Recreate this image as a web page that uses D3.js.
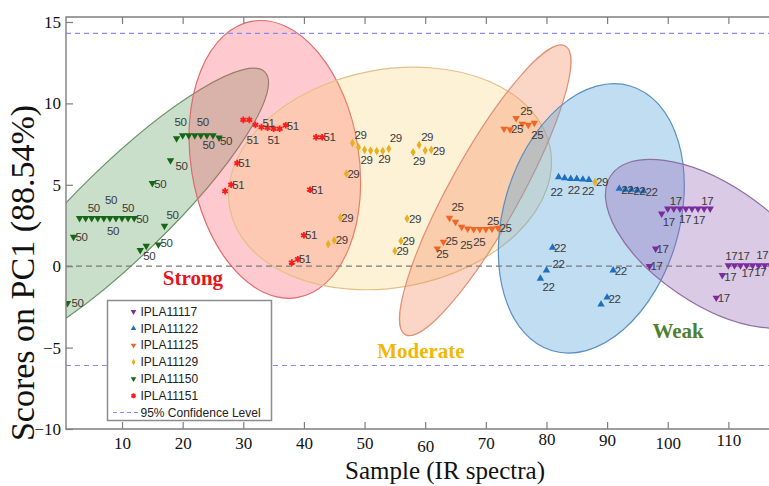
<!DOCTYPE html>
<html>
<head>
<meta charset="utf-8">
<script src="https://cdn.jsdelivr.net/npm/d3@7"></script>
<style>
  html, body { margin: 0; padding: 0; background: #fff; }
  svg { display: block; }
</style>
</head>
<body>
<svg id="chart" width="769" height="486"></svg>
<script>
// ---- data -------------------------------------------------------------
const strains = ["IPLA11117", "IPLA11122", "IPLA11125", "IPLA11129", "IPLA11150", "IPLA11151"];

// sample number (IR spectrum) and PC1 score, per strain
const samples11150 = [1, 2, 3, 4, 5, 6, 7, 8, 9, 10, 11, 12, 13, 14, 15, 16, 17, 18, 19, 20, 21, 22, 23, 24, 25, 26];
const scores11150  = [-2.27, 1.80, 2.95, 2.95, 2.95, 2.95, 2.95, 2.95, 2.95, 2.95, 2.95, 2.95, 0.98, 1.24, 5.10, 1.33, 2.47, 6.50, 7.85, 8.03, 8.03, 8.03, 8.03, 8.03, 8.03, 7.89];

const samples11151 = [27, 28, 29, 30, 31, 32, 33, 34, 35, 36, 37, 38, 39, 40, 41, 42, 43];
const scores11151  = [4.61, 5.00, 6.33, 8.99, 8.99, 8.68, 8.54, 8.50, 8.44, 8.44, 8.66, 0.22, 0.43, 1.90, 4.70, 7.92, 7.92];

const samples11129 = [44, 45, 46, 47, 48, 49, 50, 51, 52, 53, 54, 55, 56, 57, 58, 59, 60, 61, 88];
const scores11129  = [1.35, 1.59, 2.98, 5.68, 7.56, 7.31, 7.15, 7.10, 7.07, 7.07, 7.21, 0.94, 1.55, 2.92, 7.00, 7.45, 7.10, 7.15, 5.17];

const samples11125 = [62, 63, 64, 65, 66, 67, 68, 69, 70, 71, 72, 73, 74, 75, 76, 77, 78];
const scores11125  = [1.08, 1.49, 2.96, 2.72, 2.41, 2.31, 2.27, 2.27, 2.27, 2.31, 2.35, 8.44, 8.40, 9.09, 8.74, 8.68, 8.80];

const samples11122 = [79, 80, 81, 82, 83, 84, 85, 86, 87, 89, 90, 91, 92, 93, 94, 95, 96];
const scores11122  = [-0.76, -0.25, 1.15, 5.47, 5.41, 5.37, 5.37, 5.33, 5.31, -2.35, -1.92, -0.25, 4.76, 4.70, 4.70, 4.66, 4.62];

const samples11117 = [97, 98, 99, 100, 101, 102, 103, 104, 105, 106, 107, 108, 109, 110, 111, 112, 113, 114, 115, 116, 117];
const scores11117  = [0.00, 1.08, 3.23, 3.53, 3.53, 3.53, 3.53, 3.53, 3.53, 3.53, 3.53, -1.94, -0.55, 0.05, 0.05, 0.05, 0.05, 0.05, 0.05, 0.05, 0.05];

// centre of each strain's confidence region (sample, score)
const regionStrain = ["IPLA11150", "IPLA11151", "IPLA11129", "IPLA11125", "IPLA11122", "IPLA11117"];
const regionSample = [10.2, 35.2, 54.2, 69.9, 87.4, 107.3];
const regionScore  = [3.43, 6.56, 5.39, 4.66, 2.94, 1.38];

const confidenceLimits = [14.3, -6.1];
const xTicks = [10, 20, 30, 40, 50, 60, 70, 80, 90, 100, 110];
const yTicks = [-10, -5, 0, 5, 10, 15];

const groupNames   = ["Strong", "Moderate", "Weak"];
const groupSample  = [21.7, 59.3, 101.7];
const groupScore   = [-1.13, -5.64, -4.41];

// ---- styling / layout -------------------------------------------------
const serif = "'Liberation Serif','Times New Roman',Times,serif";
const sans  = "'Liberation Sans',Arial,Helvetica,sans-serif";

const markerColor = {
  IPLA11117: "#7a2c9e", IPLA11122: "#1f6fc0", IPLA11125: "#f26522",
  IPLA11129: "#e8b020", IPLA11150: "#176617", IPLA11151: "#ff1a1a"
};
const markerShape = {
  IPLA11117: "down", IPLA11122: "up", IPLA11125: "down",
  IPLA11129: "diamond", IPLA11150: "down", IPLA11151: "star"
};
// ellipse outline in pixels: semi-axes and rotation
const regionStyle = {
  IPLA11150: {rx: 198, ry: 46,  rot: -44.3, fill: "#5a9e5a", op: 0.33, stroke: "#6a946a"},
  IPLA11151: {rx: 84,  ry: 140, rot: -9,    fill: "#ff5060", op: 0.30, stroke: "#e06a6a"},
  IPLA11129: {rx: 163, ry: 109, rot: -10.7, fill: "#f7c85a", op: 0.25, stroke: "#e2c088"},
  IPLA11125: {rx: 165, ry: 35,  rot: -61,   fill: "#f5946a", op: 0.38, stroke: "#e29072"},
  IPLA11122: {rx: 88,  ry: 138, rot: 16.4,  fill: "#5aa5dc", op: 0.38, stroke: "#5a8fc0"},
  IPLA11117: {rx: 122, ry: 60,  rot: 34,    fill: "#9868b8", op: 0.35, stroke: "#8d6fa3"}
};
const groupColor = ["#e8141c", "#f2b705", "#4f7f2f"];

// where each printed class number sits relative to its marker (px)
const labelNudge = {
  1: [10, 0], 2: [8, 0], 5: [2, -10], 8: [1, -18], 11: [0, -10], 9: [-3, 13], 12: [8, 1],
  14: [3, 10], 16: [8, -2], 17: [8, -11], 15: [8, 1], 18: [11, 6], 19: [4, -16], 23: [2, -13],
  24: [1.5, 10], 26: [7, 3],
  28: [7, 0], 29: [7, 0], 33: [7, -4], 32: [-3, 15], 35: [0, 11], 37: [7, 1], 43: [7.5, 0],
  41: [7, 0], 40: [7, 0], 39: [7, 0],
  48: [8, -8], 54: [7, -11], 50: [2, 10], 53: [1.5, 8], 59: [8, -8], 58: [6, 9], 61: [7.5, 1],
  47: [7, 0], 46: [7, 0], 45: [7.5, 0], 57: [8, 0], 56: [7.5, 0], 55: [7.5, 0], 88: [7, 0],
  63: [8, -1], 62: [5, 5], 64: [8, -11], 67: [-1.5, 16], 69: [-0.5, 13], 71: [1, -8], 72: [7.5, 0],
  74: [7, 0], 75: [10, -7], 78: [3, 12],
  82: [-2, 15], 85: [-3, 11], 87: [-1, 11.5], 92: [8, 1], 94: [8, 1], 96: [8, 1], 81: [7.5, 1],
  80: [12, -6], 79: [8, 8], 91: [7.5, 1], 90: [7.5, 2],
  99: [7, 8], 101: [2, -8], 107: [-3, -8], 103: [-1, 10], 105: [1, 11], 98: [7, 0], 97: [7, 0],
  109: [8, 2], 108: [7.5, 0], 110: [3, -9], 112: [3, -9], 116: [-2.5, -10], 113: [1, 8], 115: [1.5, 7]
};
// small vertical offsets of some x tick labels (px)
const tickLift = {60: 3, 80: -4, 90: -3, 110: -3};

// ---- assemble ---------------------------------------------------------
const byStrain = {
  IPLA11150: [samples11150, scores11150], IPLA11151: [samples11151, scores11151],
  IPLA11129: [samples11129, scores11129], IPLA11125: [samples11125, scores11125],
  IPLA11122: [samples11122, scores11122], IPLA11117: [samples11117, scores11117]
};
const points = [];
["IPLA11150", "IPLA11151", "IPLA11129", "IPLA11125", "IPLA11122", "IPLA11117"].forEach(s => {
  const [xs, ys] = byStrain[s];
  xs.forEach((v, i) => points.push({strain: s, sample: v, score: ys[i]}));
});

const plot = {left: 66, right: 769, top: 17, bottom: 429};
const x = d3.scaleLinear().domain([0.76, 116.7]).range([plot.left, plot.right]);
const y = d3.scaleLinear().domain([-10, 15]).range([429, 22]);

const svg = d3.select("#chart");
svg.append("defs").append("clipPath").attr("id", "plotClip")
  .append("rect").attr("x", plot.left).attr("y", plot.top)
  .attr("width", plot.right - plot.left).attr("height", plot.bottom - plot.top);

const area = svg.append("g").attr("clip-path", "url(#plotClip)");

// confidence regions
area.append("g").selectAll("ellipse")
  .data(regionStrain.map((s, i) => ({strain: s, sample: regionSample[i], score: regionScore[i]})))
  .join("ellipse")
  .attr("cx", 0).attr("cy", 0)
  .attr("rx", d => regionStyle[d.strain].rx)
  .attr("ry", d => regionStyle[d.strain].ry)
  .attr("transform", d => `translate(${x(d.sample)},${y(d.score)}) rotate(${regionStyle[d.strain].rot})`)
  .attr("fill", d => regionStyle[d.strain].fill)
  .attr("fill-opacity", d => regionStyle[d.strain].op)
  .attr("stroke", d => regionStyle[d.strain].stroke)
  .attr("stroke-width", 1.2);

// zero line and 95% confidence limits
area.append("line")
  .attr("x1", plot.left).attr("x2", plot.right)
  .attr("y1", y(0)).attr("y2", y(0))
  .attr("stroke", "#7a7a7a").attr("stroke-width", 1.2).attr("stroke-dasharray", "6,4");
area.append("g").selectAll("line").data(confidenceLimits).join("line")
  .attr("x1", plot.left).attr("x2", plot.right)
  .attr("y1", d => y(d)).attr("y2", d => y(d))
  .attr("stroke", "#8a8af0").attr("stroke-width", 1.2).attr("stroke-dasharray", "5,4");

// markers
const triSym = d3.symbol().type(d3.symbolTriangle).size(24);
const diaSym = d3.symbol().type(d3.symbolDiamond).size(22);
const starSym = d3.symbol().type(d3.symbolAsterisk).size(30);
function drawMarker(g, shape, color, scale) {
  const k = scale || 1;
  if (shape === "down" || shape === "up") {
    g.append("path").attr("d", triSym())
      .attr("transform", `scale(${k}) rotate(${shape === "down" ? 180 : 0})`)
      .attr("fill", color);
  } else if (shape === "diamond") {
    g.append("path").attr("d", diaSym()).attr("transform", `scale(${k})`).attr("fill", color);
  } else {
    g.append("path").attr("d", starSym()).attr("transform", `scale(${k})`)
      .attr("fill", "none").attr("stroke", color).attr("stroke-width", 1.8 / k);
  }
}
const markG = area.append("g");
points.forEach(p => {
  const g = markG.append("g").attr("transform", `translate(${x(p.sample)},${y(p.score)})`);
  drawMarker(g, markerShape[p.strain], markerColor[p.strain]);
});

// class-number labels
area.append("g").selectAll("text")
  .data(points.filter(p => labelNudge[p.sample]))
  .join("text")
  .attr("x", p => x(p.sample) + labelNudge[p.sample][0])
  .attr("y", p => y(p.score) + labelNudge[p.sample][1])
  .attr("text-anchor", "middle").attr("dominant-baseline", "central")
  .attr("font-family", sans).attr("font-size", 11.5).attr("letter-spacing", -0.4)
  .attr("fill", "#3a3a3a")
  .text(p => p.strain.slice(-2));

// group names
svg.append("g").selectAll("text").data(groupNames).join("text")
  .attr("x", (d, i) => x(groupSample[i]))
  .attr("y", (d, i) => y(groupScore[i]))
  .attr("text-anchor", "middle")
  .attr("font-family", serif).attr("font-weight", "bold").attr("font-size", 21)
  .attr("fill", (d, i) => groupColor[i])
  .text(d => d);

// axes
const axisColor = "#7f7f7f";
const yAxis = svg.append("g").attr("transform", `translate(${plot.left},0)`)
  .call(d3.axisLeft(y).tickValues(yTicks).tickSize(-7).tickPadding(5).tickFormat(d3.format("d")));
const xAxis = svg.append("g").attr("transform", `translate(0,${plot.bottom})`)
  .call(d3.axisBottom(x).tickValues(xTicks).tickSize(-7).tickPadding(8));
const xTop = svg.append("g").attr("transform", `translate(0,${plot.top})`)
  .call(d3.axisTop(x).tickValues(xTicks).tickSize(-7).tickFormat(""));
[yAxis, xAxis, xTop].forEach(a => {
  a.select(".domain").remove();
  a.selectAll(".tick line").attr("stroke", axisColor).attr("stroke-width", 1.2);
  a.selectAll("text").attr("font-family", serif).attr("font-size", 17).attr("fill", "#111");
});
xAxis.selectAll(".tick text").attr("transform", d => `translate(0,${tickLift[d] || 0})`);

// frame
svg.append("path")
  .attr("d", `M${plot.right},${plot.top}H${plot.left}V${plot.bottom}H${plot.right}`)
  .attr("fill", "none").attr("stroke", axisColor).attr("stroke-width", 1.4);

// axis titles
svg.append("text")
  .attr("transform", `translate(34,273) rotate(-90)`)
  .attr("text-anchor", "middle")
  .attr("font-family", serif).attr("font-size", 34).attr("fill", "#111")
  .text("Scores on PC1 (88.54%)");
svg.append("text")
  .attr("x", 445).attr("y", 479)
  .attr("text-anchor", "middle")
  .attr("font-family", serif).attr("font-size", 25).attr("fill", "#111")
  .text("Sample (IR spectra)");

// legend
const lg = svg.append("g");
lg.append("rect").attr("x", 107.5).attr("y", 300.5).attr("width", 164).attr("height", 120)
  .attr("fill", "#fff").attr("stroke", "#8c8c8c").attr("stroke-width", 1.5);
const rowY = i => 311.7 + i * 16.8;
strains.forEach((s, i) => {
  const g = lg.append("g").attr("transform", `translate(133.5,${rowY(i)})`);
  drawMarker(g, markerShape[s], markerColor[s], 0.75);
  lg.append("text").attr("x", 140.5).attr("y", rowY(i))
    .attr("dominant-baseline", "central")
    .attr("font-family", sans).attr("font-size", 12).attr("fill", "#222")
    .text(s);
});
lg.append("line").attr("x1", 113).attr("x2", 139).attr("y1", rowY(6)).attr("y2", rowY(6))
  .attr("stroke", "#8a8af0").attr("stroke-width", 1.2).attr("stroke-dasharray", "4,3");
lg.append("text").attr("x", 140.5).attr("y", rowY(6))
  .attr("dominant-baseline", "central")
  .attr("font-family", sans).attr("font-size", 12).attr("fill", "#222")
  .text("95% Confidence Level");
</script>
</body>
</html>
